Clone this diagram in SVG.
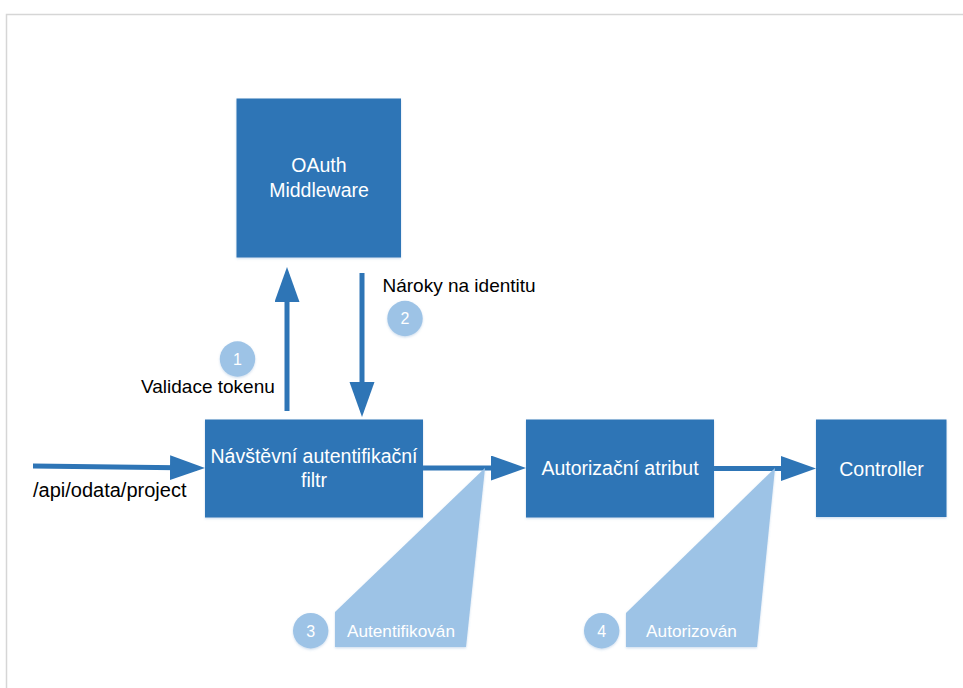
<svg xmlns="http://www.w3.org/2000/svg" width="963" height="688" viewBox="0 0 963 688">
  <style>
    .box { fill: #2E75B6; filter: url(#soft); }
    .boxtext { font-family: "Liberation Sans", Arial, sans-serif; font-size: 19.5px; fill: #ffffff; text-anchor: middle; }
    .label { font-family: "Liberation Sans", Arial, sans-serif; fill: #000000; }
    .callout { fill: #9DC3E6; filter: url(#soft); }
    .badge { fill: #9DC3E6; filter: url(#soft); }
    .badgetext { font-family: "Liberation Sans", Arial, sans-serif; font-size: 16px; fill: #ffffff; text-anchor: middle; }
    .calltext { font-family: "Liberation Sans", Arial, sans-serif; font-size: 17.2px; fill: #ffffff; text-anchor: middle; }
    .flow { stroke: #2E75B6; stroke-width: 5; fill: none; marker-end: url(#head); }
  </style>
  <defs>
    <filter id="soft" x="-10%" y="-10%" width="120%" height="130%">
      <feDropShadow dx="0" dy="1.2" stdDeviation="1.2" flood-color="#5b8fc7" flood-opacity="0.3"/>
    </filter>
    <marker id="head" markerUnits="userSpaceOnUse" markerWidth="35" markerHeight="26" refX="27" refY="12.5" orient="auto">
      <path d="M0,0 L35,12.5 L0,25 Z" fill="#2E75B6"/>
    </marker>
  </defs>

  <!-- page frame -->
  <rect x="0" y="0" width="963" height="688" fill="#ffffff"/>
  <rect x="6.5" y="14.5" width="1000" height="700" fill="#ffffff" stroke="#d6d6d6" stroke-width="1.5"/>

  <!-- connectors -->
  <g id="connectors">
    <line class="flow" x1="287" y1="411" x2="287" y2="275"/>
    <line class="flow" x1="362" y1="273" x2="362" y2="409"/>
    <line class="flow" x1="33" y1="466" x2="197" y2="468"/>
    <line class="flow" x1="423" y1="468" x2="518" y2="468"/>
    <line class="flow" x1="714" y1="468.5" x2="808" y2="468.5"/>
  </g>

  <!-- callouts -->
  <g id="callout-authenticated">
    <polygon class="callout" points="485,468 335,612 335,647 466,647"/>
    <text class="calltext" x="401" y="637">Autentifikován</text>
  </g>
  <g id="callout-authorized">
    <polygon class="callout" points="775,468 626,613 626,647 757,647"/>
    <text class="calltext" x="691.5" y="637">Autorizován</text>
  </g>

  <!-- nodes -->
  <g id="oauth-middleware">
    <rect class="box" x="236.5" y="98.5" width="164.5" height="159"/>
    <text class="boxtext" x="319" y="172">OAuth</text>
    <text class="boxtext" x="319" y="197">Middleware</text>
  </g>
  <g id="auth-filter">
    <rect class="box" x="205" y="419.5" width="218" height="98"/>
    <text class="boxtext" x="314" y="463">Návštěvní autentifikační</text>
    <text class="boxtext" x="314" y="487">filtr</text>
  </g>
  <g id="authorization-attribute">
    <rect class="box" x="526" y="419.5" width="188" height="98"/>
    <text class="boxtext" x="620" y="475">Autorizační atribut</text>
  </g>
  <g id="controller">
    <rect class="box" x="816" y="419.5" width="130.5" height="97.5"/>
    <text class="boxtext" x="881.5" y="476">Controller</text>
  </g>

  <!-- step badges -->
  <g id="step-1">
    <circle class="badge" cx="237.5" cy="359" r="17.7"/>
    <text class="badgetext" x="237.5" y="364.5">1</text>
  </g>
  <g id="step-2">
    <circle class="badge" cx="405" cy="318.5" r="17.7"/>
    <text class="badgetext" x="405" y="324">2</text>
  </g>
  <g id="step-3">
    <circle class="badge" cx="310.7" cy="630.7" r="17.7"/>
    <text class="badgetext" x="310.7" y="636.5">3</text>
  </g>
  <g id="step-4">
    <circle class="badge" cx="601.7" cy="630.7" r="17.7"/>
    <text class="badgetext" x="601.7" y="636.5">4</text>
  </g>

  <!-- edge labels -->
  <g id="labels">
    <text class="label" x="141" y="393" font-size="19">Validace tokenu</text>
    <text class="label" x="382.5" y="292" font-size="19">Nároky na identitu</text>
    <text class="label" x="33" y="497" font-size="20">/api/odata/project</text>
  </g>
</svg>
